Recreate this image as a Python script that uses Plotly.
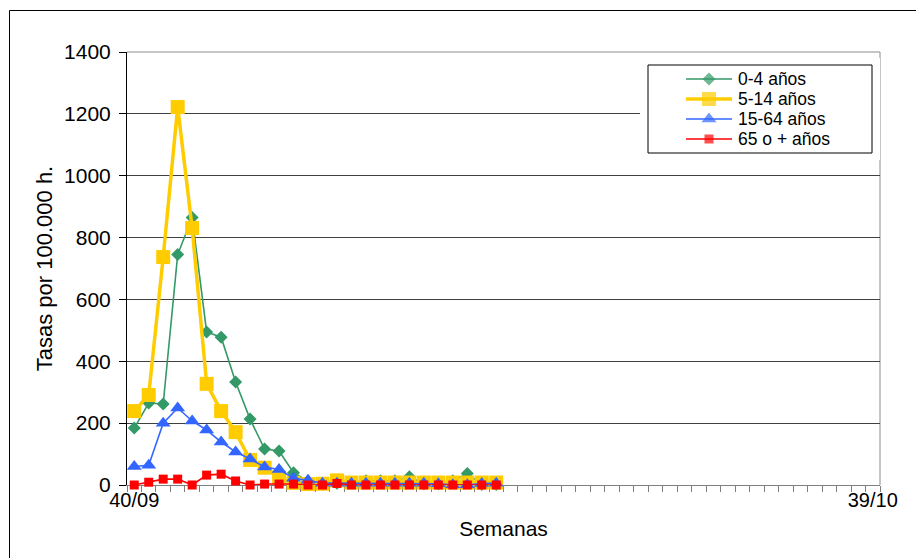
import plotly.graph_objects as go

# Weekly categories of the season (week/year)
weeks = [
    "40/09", "41/09", "42/09", "43/09", "44/09", "45/09", "46/09", "47/09",
    "48/09", "49/09", "50/09", "51/09", "52/09",
    "01/10", "02/10", "03/10", "04/10", "05/10", "06/10", "07/10", "08/10",
    "09/10", "10/10", "11/10", "12/10", "13/10", "14/10", "15/10", "16/10",
    "17/10", "18/10", "19/10", "20/10", "21/10", "22/10", "23/10", "24/10",
    "25/10", "26/10", "27/10", "28/10", "29/10", "30/10", "31/10", "32/10",
    "33/10", "34/10", "35/10", "36/10", "37/10", "38/10", "39/10",
]

# Rates per 100,000 inhabitants by age group
tasa_0_4 = [184, 265, 262, 745, 865, 495, 478, 333, 213, 116, 110, 40, 12,
            2, 6, 8, 14, 14, 14, 27, 3, 3, 14, 37, 2, 2]
tasa_5_14 = [239, 291, 737, 1222, 831, 327, 239, 171, 81, 56, 24, 7, 3,
             4, 15, 8, 8, 8, 8, 8, 8, 8, 8, 8, 8, 8]
tasa_15_64 = [60, 64, 200, 249, 207, 178, 139, 107, 84, 58, 50, 22, 15,
              6, 6, 6, 6, 6, 6, 6, 6, 4, 1, 1, 5, 6]
tasa_65 = [0, 9, 19, 19, 0, 32, 35, 13, 0, 3, 3, 3, 0,
           0, 5, 0, 0, 0, 0, 0, 0, 0, 0, 0, 0, 0]

series_names = ["0-4 años", "5-14 años", "15-64 años", "65 o + años"]
series_values = [tasa_0_4, tasa_5_14, tasa_15_64, tasa_65]
colors = ["#339966", "#FFCC00", "#3366FF", "#FF0000"]
symbols = ["diamond", "square", "triangle-up", "square"]
msizes = [10, 14, 13, 9]
lwidths = [1.6, 3.5, 1.6, 1.6]

FONT = "Liberation Sans, Arial, sans-serif"

fig = go.Figure()

for name, vals, c, s, ms, lw in zip(series_names, series_values, colors,
                                    symbols, msizes, lwidths):
    fig.add_trace(go.Scatter(
        x=weeks[:len(vals)], y=vals, name=name, mode="lines+markers",
        line=dict(color=c, width=lw),
        marker=dict(symbol=s, size=ms, color=c, line=dict(width=0)),
        cliponaxis=False, showlegend=False,
    ))

# Legend box drawn on its own small pixel-like subplot
LX0, LX1, LY0, LY1 = 640, 880, 58, 160
fig.add_trace(go.Scatter(
    x=[648, 872, 872, 648, 648], y=[65, 65, 153, 153, 65],
    xaxis="x2", yaxis="y2", mode="lines", fill="toself",
    fillcolor="white", line=dict(color="black", width=1),
    showlegend=False, hoverinfo="skip",
))
row_y = [79, 99, 119, 139]
for name, c, s, ms, lw, ry in zip(series_names, colors, symbols, msizes,
                                  lwidths, row_y):
    fig.add_trace(go.Scatter(
        x=[686, 709, 732], y=[ry, ry, ry], xaxis="x2", yaxis="y2",
        mode="lines+markers", line=dict(color=c, width=lw),
        marker=dict(symbol=s, size=[0, ms, 0], color=c, line=dict(width=0)),
        showlegend=False, hoverinfo="skip",
    ))
    fig.add_annotation(
        x=737, y=ry, xref="x2", yref="y2", text=name, showarrow=False,
        xanchor="left", yanchor="middle", borderpad=0,
        font=dict(family=FONT, size=17.5, color="black"),
    )

W, H = 916, 558
L, R, T, B = 127, 36, 52, 73
pw, ph = W - L - R, H - T - B


def px_x(p):
    return (p - L) / pw


def px_y(p):
    return (H - B - p) / ph


fig.update_layout(
    width=W, height=H,
    margin=dict(l=L, r=R, t=T, b=B, autoexpand=False),
    paper_bgcolor="white", plot_bgcolor="white",
    font=dict(family=FONT, size=21, color="black"),
    showlegend=False,
    xaxis=dict(
        type="category", categoryorder="array", categoryarray=weeks,
        range=[-0.5, len(weeks) - 0.5], automargin=False,
        tickmode="array", tickvals=weeks, tickangle=0,
        ticktext=[weeks[0]] + [""] * (len(weeks) - 2) + [weeks[-1]],
        tickson="boundaries", ticks="outside", ticklen=6,
        tickcolor="#808080", tickwidth=1, ticklabelstandoff=-3,
        showline=True, linecolor="#808080", linewidth=1,
        showgrid=False, zeroline=False, layer="below traces",
        tickfont=dict(size=20),
        title=dict(text="Semanas", font=dict(size=21), standoff=11),
    ),
    yaxis=dict(
        range=[0, 1400], tickmode="linear", tick0=0, dtick=200,
        automargin=False, ticklabelstandoff=4,
        ticks="outside", ticklen=7, tickcolor="black", tickwidth=1,
        showline=True, linecolor="black", linewidth=1,
        showgrid=True, gridcolor="#404040", gridwidth=1,
        zeroline=False, layer="below traces",
        tickfont=dict(size=21),
        title=dict(text="Tasas por 100.000 h.", font=dict(size=22),
                   standoff=5),
    ),
    xaxis2=dict(domain=[px_x(LX0), px_x(LX1)], range=[LX0, LX1],
                anchor="y2", visible=False, fixedrange=True),
    yaxis2=dict(domain=[px_y(LY1), px_y(LY0)], range=[LY1, LY0],
                anchor="x2", visible=False, fixedrange=True),
)

# Right and top frame of the plotting area
fig.add_shape(type="line", xref="paper", yref="paper", x0=1, x1=1, y0=0,
              y1=1, line=dict(color="#8c8c8c", width=1), layer="below")
fig.add_shape(type="line", xref="paper", yref="paper", x0=0, x1=1, y0=1,
              y1=1, line=dict(color="#8c8c8c", width=1), layer="below")

# Outer chart border
fig.add_shape(type="rect", xref="paper", yref="paper",
              x0=px_x(9.5), x1=px_x(930), y0=px_y(575), y1=px_y(10.5),
              line=dict(color="black", width=1), fillcolor="rgba(0,0,0,0)",
              layer="above")

fig.write_html("out.html")
